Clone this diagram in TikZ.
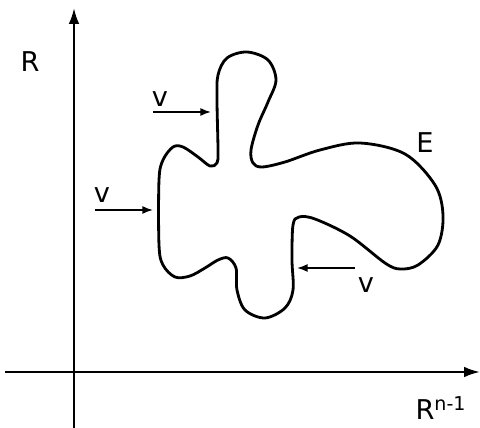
\documentclass[tikz,border=0pt]{standalone}
\usepackage{fontspec}
\setmainfont{DejaVu Sans}
\usetikzlibrary{arrows.meta}

\begin{document}
\begin{tikzpicture}[
    x=0.02cm, y=-0.02cm,
    axis/.style={-{Latex[length=9pt,width=6pt]}, line width=1.3pt},
    blob/.style={line width=1.6pt, line join=round},
    varrow/.style={-{Latex[length=6pt,width=4.5pt]}, line width=0.9pt},
    lbl/.style={font=\fontsize{15.5}{18}\selectfont, inner sep=0pt},
]
    \useasboundingbox (0,0) rectangle (480,428);

    % axes
    \coordinate (ybot) at (74,428);
    \coordinate (ytop) at (74,8);
    \coordinate (xleft) at (5,372);
    \coordinate (xright) at (480,372);
    \draw[axis] (ybot) -- (ytop);
    \draw[axis] (xleft) -- (xright);

    \node[lbl] (rlab) at (30,62) {R};
    \node[lbl] (rnlab) at (441,408) {R\textsuperscript{n-1}};
    \node[lbl] (elab) at (425,143) {E};

    % the set E
    \draw[blob] plot[smooth cycle, tension=0.55] coordinates {
        (247,52) (268,60) (276,80) (268,102) (258,125) (251,150) (253,163)
        (262,167) (285,162) (320,150) (360,143) (405,154) (435,185) (443,215)
        (438,245) (418,265) (400,269) (385,263) (350,236) (315,219) (299,217)
        (293,225) (292,260) (293,290) (285,308) (265,318) (245,310) (237,290)
        (236,268) (228,258) (218,260) (205,268) (190,276) (175,277) (163,265)
        (159,245) (159,180) (163,160) (173,147) (183,147) (198,157) (210,166)
        (217,163) (218,150) (217,100) (218,75) (227,58)};

    % velocity arrows
    \coordinate (v1s) at (153,112);
    \coordinate (v1e) at (211,112);
    \draw[varrow] (v1s) -- (v1e);
    \node[lbl] (v1) at (160,99) {v};

    \coordinate (v2s) at (95,210);
    \coordinate (v2e) at (153,210);
    \draw[varrow] (v2s) -- (v2e);
    \node[lbl] (v2) at (102,195) {v};

    \coordinate (v3s) at (355,268);
    \coordinate (v3e) at (297,268);
    \draw[varrow] (v3s) -- (v3e);
    \node[lbl] (v3) at (366,285) {v};
\end{tikzpicture}
\end{document}
